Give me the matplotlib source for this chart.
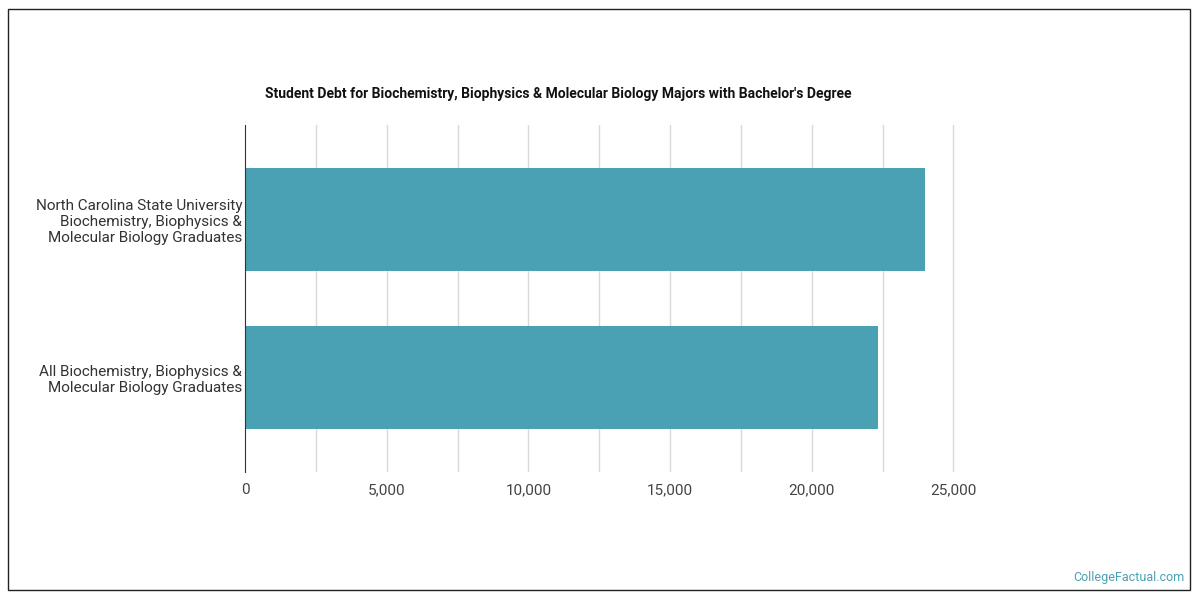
import matplotlib
matplotlib.use("Agg")
import matplotlib.pyplot as plt
from matplotlib.patches import Rectangle

categories = ["North Carolina State University\nBiochemistry, Biophysics &\nMolecular Biology Graduates",
              "All Biochemistry, Biophysics &\nMolecular Biology Graduates"]
values = [24000, 22350]
ticks = [0, 5000, 10000, 15000, 20000, 25000]
tick_labels = ["0", "5,000", "10,000", "15,000", "20,000", "25,000"]
grid_lines = [2500, 5000, 7500, 10000, 12500, 15000, 17500, 20000, 22500, 25000]

plt.rcParams['font.family'] = ['Roboto', 'DejaVu Sans']
fig = plt.figure(figsize=(12, 6), dpi=100)
fig.patches.append(Rectangle((8/1200, 10/600), 1182/1200, 581/600, transform=fig.transFigure,
                             fill=False, edgecolor='#222222', linewidth=1))
ax = fig.add_axes([245/1200, 1-472/600, 850/1200, 347/600])
ax.barh([0, 1], values, height=0.65, color='#4aa1b3', zorder=2)
ax.set_ylim(1.6, -0.6)
ax.set_xlim(0, 30000)
for g in grid_lines:
    ax.axvline(g, color='#d9d9d9', linewidth=1, zorder=1)
ax.set_yticks([0, 1])
ax.set_yticklabels(categories, fontsize=11, color='#333333', ha='right')
ax.set_xticks(ticks)
ax.set_xticklabels(tick_labels, fontsize=11, color='#444444')
ax.tick_params(length=0, pad=8)
ax.tick_params(axis='y', pad=2)
for s in ['top', 'right', 'bottom']:
    ax.spines[s].set_visible(False)
ax.spines['left'].set_color('#333333')
fig.text(558/1200, 1-94/600, "Student Debt for Biochemistry, Biophysics & Molecular Biology Majors with Bachelor's Degree",
         ha='center', va='center', fontsize=10, fontweight='bold', color='#111111')
fig.text(1185/1200, 1-578/600, "CollegeFactual.com", ha='right', va='center', fontsize=9, color='#4aa1b3')
fig.savefig("out.png", dpi=100)
